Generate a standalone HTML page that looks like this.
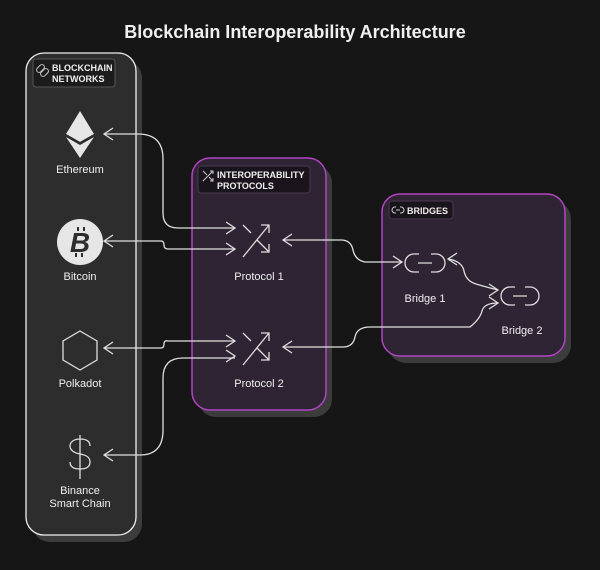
<!DOCTYPE html>
<html><head><style>
html,body{margin:0;padding:0;background:#161616;}
svg{display:block;}
text{font-family:"Liberation Sans",sans-serif;fill:#f0f0f0;}
</style></head><body>
<svg width="600" height="570" viewBox="0 0 600 570" xmlns="http://www.w3.org/2000/svg">
<rect width="600" height="570" fill="#161616"/>
<text x="295" y="38" text-anchor="middle" font-size="18" font-weight="bold">Blockchain Interoperability Architecture</text>

<rect x="32" y="60" width="110" height="482" rx="18" fill="#3c3c3c"/>
<rect x="198" y="165" width="134" height="252" rx="18" fill="#3c3c3c"/>
<rect x="388" y="201" width="183" height="162" rx="18" fill="#3c3c3c"/>
<rect x="26" y="53" width="110" height="482" rx="18" fill="#2d2d2d" stroke="#eeeeee" stroke-width="1.3"/>
<rect x="192" y="158" width="134" height="252" rx="18" fill="#2f2433" stroke="#b344c4" stroke-width="1.5"/>
<rect x="382" y="194" width="183" height="162" rx="18" fill="#2f2433" stroke="#b344c4" stroke-width="1.5"/>

<rect x="33" y="59" width="82" height="28" rx="3" fill="#1c1c1c" stroke="#555" stroke-width="1"/>
<text x="52" y="71" font-size="9" font-weight="bold">BLOCKCHAIN</text>
<text x="52" y="82" font-size="9" font-weight="bold">NETWORKS</text>
<g fill="none" stroke="#ccc" stroke-width="1"><rect x="36" y="66" width="9" height="5" rx="2.5" transform="rotate(-45 40.5 68.5)"/><rect x="40" y="70" width="9" height="5" rx="2.5" transform="rotate(-45 44.5 72.5)"/></g>

<rect x="198" y="166" width="112" height="27" rx="3" fill="#1a151c" stroke="#4a3a50" stroke-width="1"/>
<text x="217" y="178" font-size="9" font-weight="bold">INTEROPERABILITY</text>
<text x="217" y="189" font-size="9" font-weight="bold">PROTOCOLS</text>
<g fill="none" stroke="#ccc" stroke-width="1"><path d="M203 171l4 4M209 177l4 4M203 181l10-10M210 171h3v3M210 181h3v-3"/></g>

<rect x="389" y="201" width="64" height="18" rx="3" fill="#1a151c" stroke="#4a3a50" stroke-width="1"/>
<text x="407" y="214" font-size="9" font-weight="bold">BRIDGES</text>
<g fill="none" stroke="#ccc" stroke-width="1"><path d="M396 207h-1a3 3 0 0 0 0 6h1M400 207h1a3 3 0 0 1 0 6h-1M396 210h4"/></g>

<g fill="#e6e6e6"><polygon points="80,111 94,134 80,142 66,134"/><polygon points="80,145 94,137 80,158 66,137"/></g>
<polygon points="66,134 80,142 94,134 80,145" fill="#2d2d2d"/>
<text x="80" y="173" text-anchor="middle" font-size="11">Ethereum</text>
<circle cx="80" cy="242" r="23" fill="#e6e6e6"/>
<text x="80" y="252" text-anchor="middle" font-size="28" font-weight="bold" font-style="italic" style="fill:#2d2d2d">B</text>
<path d="M78 227v4M84 227v4M76 253v4M82 253v4" stroke="#2d2d2d" stroke-width="2"/>
<text x="80" y="280" text-anchor="middle" font-size="11">Bitcoin</text>
<polygon points="80,331 97,341 97,360 80,370 63,360 63,341" fill="none" stroke="#ddd" stroke-width="1.3"/>
<text x="80" y="387" text-anchor="middle" font-size="11">Polkadot</text>
<path d="M80 435v44M90 446c0-5-4-7-10-7s-10 3-10 7 4 7 10 8 10 3 10 8-4 7-10 7-10-2-10-7" fill="none" stroke="#ddd" stroke-width="1.3"/>
<text x="80" y="494" text-anchor="middle" font-size="11">Binance</text>
<text x="80" y="507" text-anchor="middle" font-size="11">Smart Chain</text>

<g fill="none" stroke="#ddd" stroke-width="1.3">
<path d="M243 225l8 8M257 240l12 12M243 257l26-32M261 225h8v8M261 252h8v-8"/>
<path d="M243 333l8 8M257 348l12 12M243 365l26-32M261 333h8v8M261 360h8v-8"/>
</g>
<text x="259" y="280" text-anchor="middle" font-size="11">Protocol 1</text>
<text x="259" y="387" text-anchor="middle" font-size="11">Protocol 2</text>

<g fill="none" stroke="#ddd" stroke-width="1.3">
<path d="M419 254h-5a9 9 0 0 0 0 18h5M431 254h5a9 9 0 0 1 0 18h-5M418 263h14"/>
<path d="M515 287h-5a9 9 0 0 0 0 18h5M525 287h5a9 9 0 0 1 0 18h-5M513 296h14"/>
</g>
<text x="425" y="302" text-anchor="middle" font-size="11">Bridge 1</text>
<text x="522" y="334" text-anchor="middle" font-size="11">Bridge 2</text>

<g fill="none" stroke="#e0e0e0" stroke-width="1.3">
<path d="M104 134h34q25 0 25 25v54q0 15 15 15h57"/>
<path d="M104 241h57q3 0 3 4t4 4h67"/>
<path d="M283 240h58q10 0 12 10t12 12h37"/>
<path d="M448 259q14 2 16 12t12 13t22 6"/>
<path d="M498 303q-14 0-16 8t-12 16h-100q-13 0-15 10t-12 10h-60"/>
<path d="M104 348h57q3 0 3-4t4-3h67"/>
<path d="M104 455h36q23 0 23-25v-52q0-20 20-20h52"/>
<path d="M113 128l-9 6 9 6M113 235l-9 6 9 6M113 342l-9 6 9 6M113 449l-9 6 9 6"/>
<path d="M226 222l9 6-9 6M226 243l9 6-9 6M226 335l9 6-9 6M226 350l9 6-9 6"/>
<path d="M292 234l-9 6 9 6M292 341l-9 6 9 6"/>
<path d="M393 256l9 6-9 6M457 253l-9 6 9 6M489 284l9 6-9 6M489 297l9 6-9 6"/>
</g>
</svg>
</body></html>
